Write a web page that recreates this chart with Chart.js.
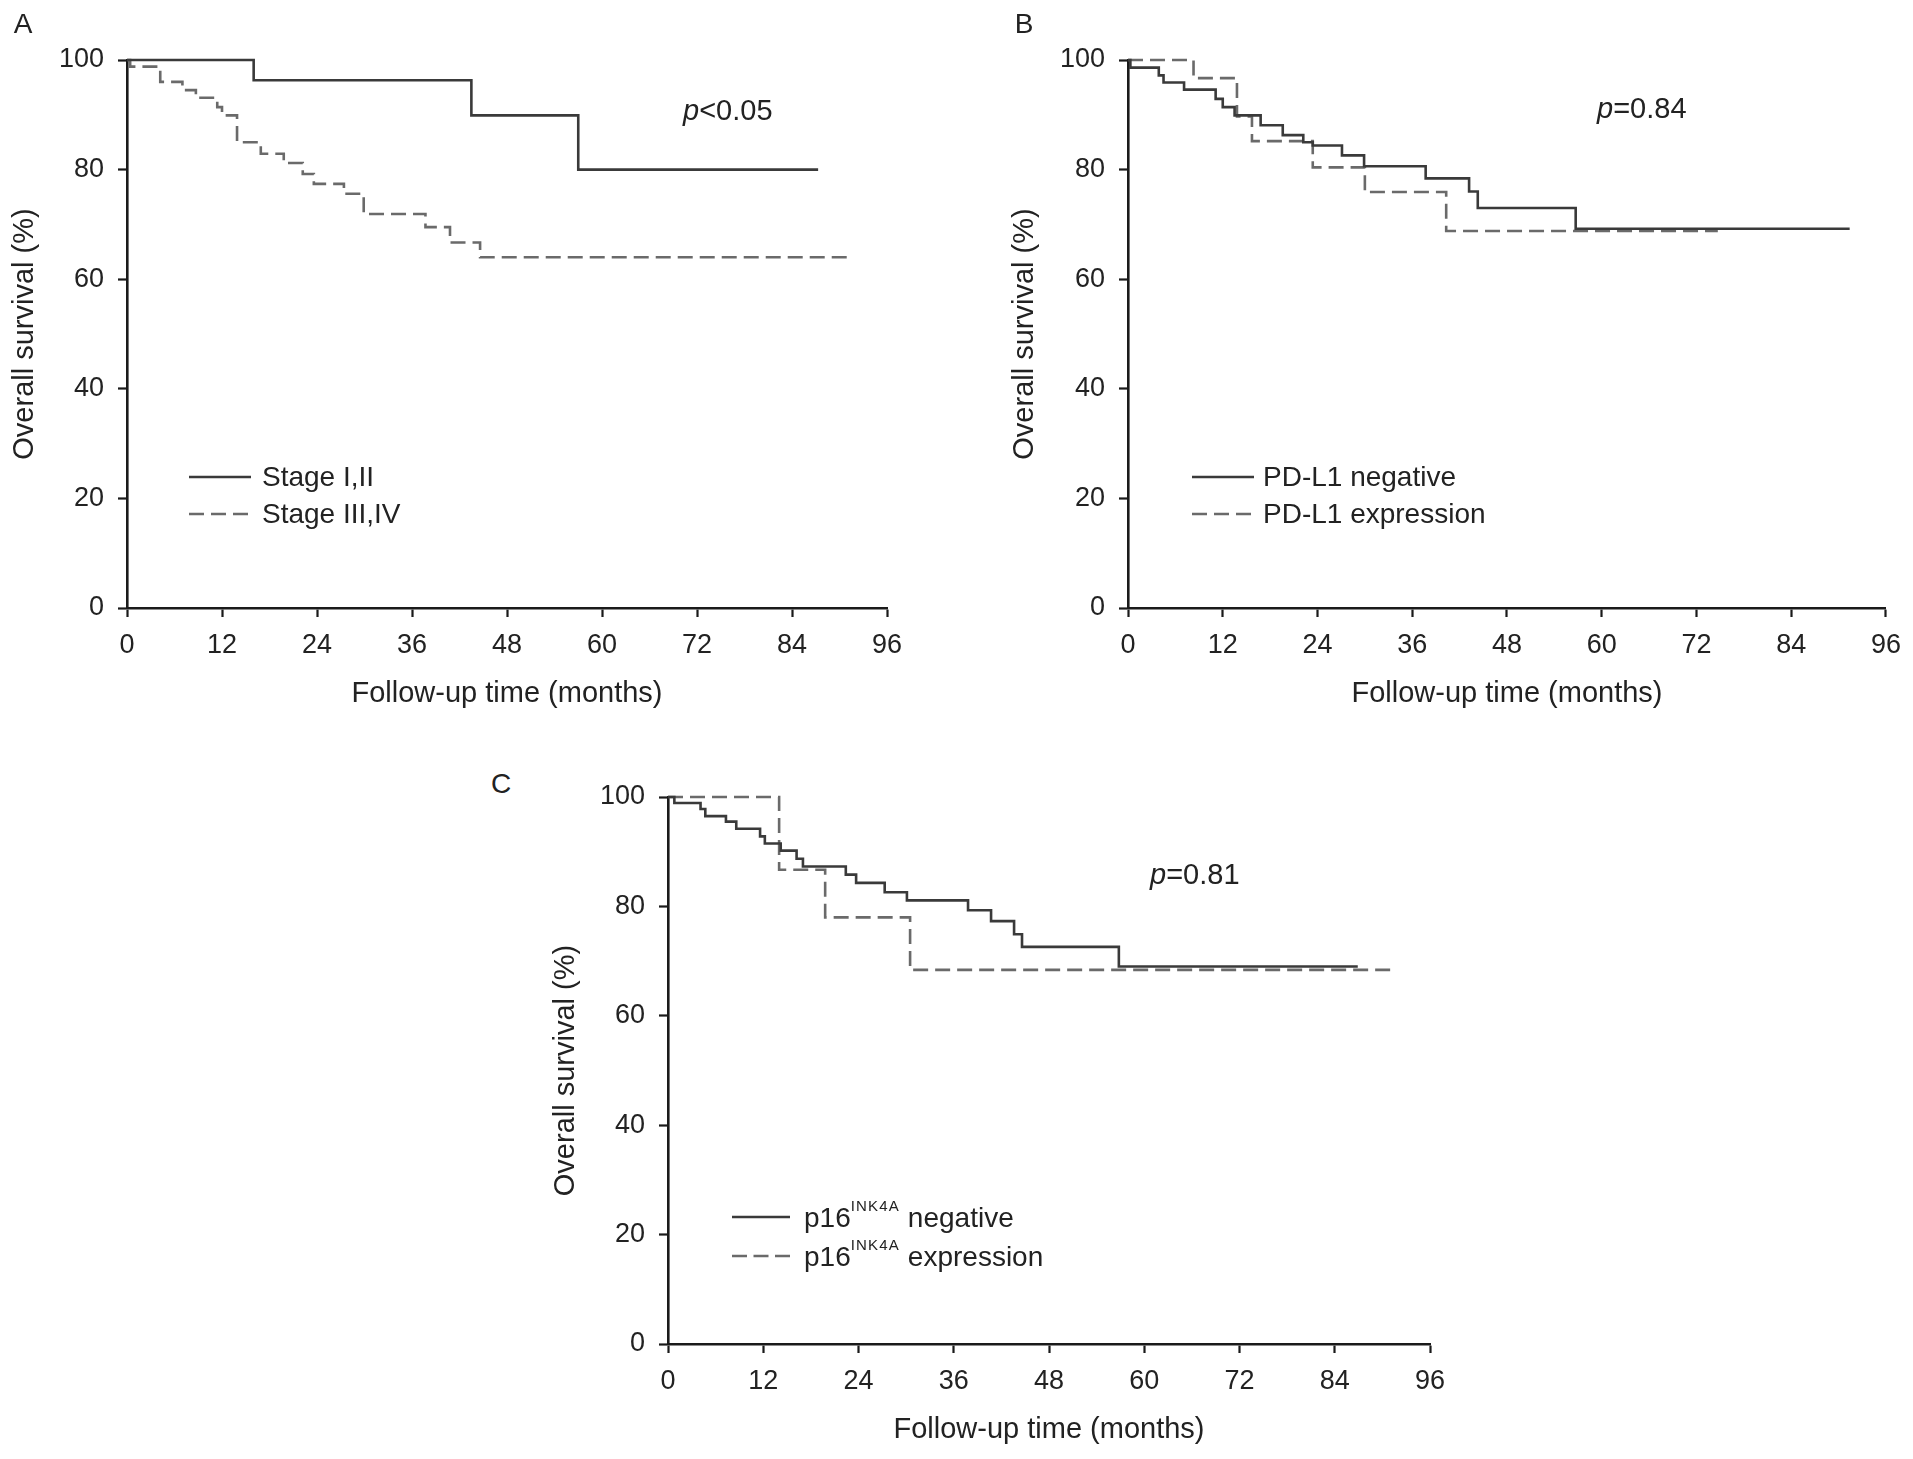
<!DOCTYPE html>
<html>
<head>
<meta charset="utf-8">
<script src="https://cdn.jsdelivr.net/npm/chart.js@4.4.1/dist/chart.umd.min.js"></script>
<style>
  html, body { margin: 0; padding: 0; background: #ffffff; }
  body { width: 1913px; height: 1459px; position: relative; overflow: hidden;
         font-family: 'Liberation Sans', Arial, Helvetica, sans-serif; color: #222222; }
  .box { position: absolute; }
  .t { position: absolute; line-height: 1; white-space: nowrap; }
  .c { transform: translate(-50%, -50%); }
  .l { transform: translate(0, -50%); }
  .sup { font-size: 15px; letter-spacing: 1.2px; position: relative; top: -16px; }
  svg.sample { position: absolute; overflow: visible; }
</style>
</head>
<body>

<div class="box" style="left:0px;top:0px;width:927px;height:718px;"><canvas id="chartA"></canvas></div>
<div class="box" style="left:1000px;top:0px;width:913px;height:718px;"><canvas id="chartB"></canvas></div>
<div class="box" style="left:541px;top:737px;width:929px;height:717px;"><canvas id="chartC"></canvas></div>

<!-- panel letters -->
<div class="t c" style="left:23px;top:24px;font-size:28px;">A</div>
<div class="t c" style="left:1024px;top:24px;font-size:28px;">B</div>
<div class="t c" style="left:501px;top:784px;font-size:28px;">C</div>

<!-- p values -->
<div class="t l" style="left:683px;top:110px;font-size:29px;"><i>p</i>&lt;0.05</div>
<div class="t l" style="left:1597px;top:108px;font-size:29px;"><i>p</i>=0.84</div>
<div class="t l" style="left:1150px;top:874px;font-size:29px;"><i>p</i>=0.81</div>

<!-- legend A -->
<svg class="sample" style="left:189px;top:477px;" width="62" height="1"><line x1="0" y1="0" x2="62" y2="0" stroke="#3a3a3a" stroke-width="2.6"/></svg>
<svg class="sample" style="left:189px;top:514px;" width="62" height="1"><line x1="0" y1="0" x2="62" y2="0" stroke="#6a6a6a" stroke-width="2.6" stroke-dasharray="15 7"/></svg>
<div class="t l" style="left:262px;top:477px;font-size:28px;">Stage I,II</div>
<div class="t l" style="left:262px;top:514px;font-size:28px;">Stage III,IV</div>

<!-- legend B -->
<svg class="sample" style="left:1192px;top:477px;" width="62" height="1"><line x1="0" y1="0" x2="62" y2="0" stroke="#3a3a3a" stroke-width="2.6"/></svg>
<svg class="sample" style="left:1192px;top:514px;" width="62" height="1"><line x1="0" y1="0" x2="62" y2="0" stroke="#6a6a6a" stroke-width="2.6" stroke-dasharray="15 7"/></svg>
<div class="t l" style="left:1263px;top:477px;font-size:28px;">PD-L1 negative</div>
<div class="t l" style="left:1263px;top:514px;font-size:28px;">PD-L1 expression</div>

<!-- legend C -->
<svg class="sample" style="left:732px;top:1217px;" width="58" height="1"><line x1="0" y1="0" x2="58" y2="0" stroke="#3a3a3a" stroke-width="2.6"/></svg>
<svg class="sample" style="left:732px;top:1256px;" width="58" height="1"><line x1="0" y1="0" x2="58" y2="0" stroke="#6a6a6a" stroke-width="2.6" stroke-dasharray="15 6.5"/></svg>
<div class="t l" style="left:804px;top:1218px;font-size:28px;">p16<span class="sup">INK4A</span> negative</div>
<div class="t l" style="left:804px;top:1257px;font-size:28px;">p16<span class="sup">INK4A</span> expression</div>

<script>
// ---------- data ----------
const xTicks = [0, 12, 24, 36, 48, 60, 72, 84, 96];
const yTicks = [0, 20, 40, 60, 80, 100];

// Panel A: stage
const stageEarlyTime = [0, 16, 43.5, 57, 87.3];
const stageEarlySurv = [100, 96.3, 89.9, 80.0, 80.0];
const stageLateTime  = [0, 0.4, 4.2, 7.0, 8.7, 11.4, 12.0, 13.9, 16.9, 19.8, 22.2, 23.6, 27.4, 29.9, 37.7, 40.8, 44.6, 91.7];
const stageLateSurv  = [100, 98.8, 96.0, 94.5, 93.1, 91.4, 89.9, 85.0, 82.9, 81.2, 79.2, 77.4, 75.6, 71.9, 69.5, 66.7, 64.0, 64.0];

// Panel B: PD-L1
const pdl1NegTime = [0, 0.3, 3.9, 4.5, 7.1, 11.1, 12.0, 13.5, 16.8, 19.6, 22.2, 23.4, 27.1, 29.9, 37.7, 43.2, 44.3, 56.7, 91.4];
const pdl1NegSurv = [100, 98.6, 97.2, 95.9, 94.6, 92.9, 91.4, 89.9, 88.1, 86.3, 85.0, 84.4, 82.6, 80.6, 78.4, 76.0, 73.0, 69.2, 69.2];
const pdl1ExpTime = [0, 8.3, 13.8, 15.7, 23.4, 30.0, 40.3, 74.7];
const pdl1ExpSurv = [100, 96.7, 89.7, 85.2, 80.4, 75.9, 68.8, 68.8];

// Panel C: p16INK4A
const p16NegTime = [0, 0.8, 4.1, 4.7, 7.3, 8.6, 11.6, 12.2, 14.2, 16.2, 17.0, 22.4, 23.7, 27.3, 30.1, 37.8, 40.7, 43.6, 44.6, 56.8, 86.9];
const p16NegSurv = [100, 98.9, 97.8, 96.5, 95.5, 94.2, 92.8, 91.5, 90.2, 88.7, 87.3, 85.8, 84.3, 82.6, 81.1, 79.3, 77.3, 74.9, 72.6, 69.0, 69.0];
const p16ExpTime = [0, 14.0, 19.8, 30.5, 91.6];
const p16ExpSurv = [100, 86.7, 78.0, 68.4, 68.4];

const seriesLabels = {
  A: ['Stage I,II', 'Stage III,IV'],
  B: ['PD-L1 negative', 'PD-L1 expression'],
  C: ['p16INK4A negative', 'p16INK4A expression']
};

// ---------- helpers ----------
const FONT = "'Liberation Sans', Arial, Helvetica, sans-serif";
const TEXT = '#222222';
const AXIS = '#1a1a1a';
const SOLID = '#3a3a3a';
const DASHED = '#6a6a6a';

function km(times, surv) { return times.map((t, i) => ({ x: t, y: surv[i] })); }

function solidSet(label, times, surv) {
  return { label, data: km(times, surv), stepped: true, borderColor: SOLID, borderWidth: 2.6,
           pointRadius: 0, fill: false, clip: false };
}
function dashedSet(label, times, surv) {
  return { label, data: km(times, surv), stepped: true, borderColor: DASHED, borderWidth: 2.6,
           borderDash: [15, 7], pointRadius: 0, fill: false, clip: false };
}

function makeChart(id, datasets, yWidth, padRight) {
  return new Chart(document.getElementById(id), {
    type: 'line',
    data: { datasets },
    options: {
      responsive: true,
      maintainAspectRatio: false,
      animation: false,
      events: [],
      layout: { padding: { left: 0, top: 60, right: padRight, bottom: 0 } },
      plugins: { legend: { display: false }, tooltip: { enabled: false }, title: { display: false } },
      scales: {
        x: {
          type: 'linear', min: 0, max: 96,
          afterBuildTicks: s => { s.ticks = xTicks.map(v => ({ value: v })); },
          afterFit: s => { s.height = 110; },
          ticks: { autoSkip: false, maxRotation: 0, padding: 12, color: TEXT, font: { family: FONT, size: 27 } },
          grid: { drawOnChartArea: false, drawTicks: true, tickLength: 9, tickWidth: 2.2, tickColor: AXIS },
          border: { display: true, color: AXIS, width: 2.6 },
          title: { display: true, text: 'Follow-up time (months)', color: TEXT,
                   font: { family: FONT, size: 29 }, padding: { top: 0, bottom: 6.6 } }
        },
        y: {
          type: 'linear', min: 0, max: 100,
          afterBuildTicks: s => { s.ticks = yTicks.map(v => ({ value: v })); },
          afterFit: s => { s.width = yWidth; },
          ticks: { autoSkip: false, padding: 14, color: TEXT, font: { family: FONT, size: 27 } },
          grid: { drawOnChartArea: false, drawTicks: true, tickLength: 9, tickWidth: 2.2, tickColor: AXIS },
          border: { display: true, color: AXIS, width: 2.6 },
          title: { display: true, text: 'Overall survival (%)', color: TEXT,
                   font: { family: FONT, size: 29 }, padding: { top: 8, bottom: 0 } }
        }
      }
    }
  });
}

makeChart('chartA', [
  solidSet(seriesLabels.A[0], stageEarlyTime, stageEarlySurv),
  dashedSet(seriesLabels.A[1], stageLateTime, stageLateSurv)
], 127, 40);

makeChart('chartB', [
  solidSet(seriesLabels.B[0], pdl1NegTime, pdl1NegSurv),
  dashedSet(seriesLabels.B[1], pdl1ExpTime, pdl1ExpSurv)
], 128, 26);

makeChart('chartC', [
  solidSet(seriesLabels.C[0], p16NegTime, p16NegSurv),
  dashedSet(seriesLabels.C[1], p16ExpTime, p16ExpSurv)
], 127, 40);
</script>
</body>
</html>
